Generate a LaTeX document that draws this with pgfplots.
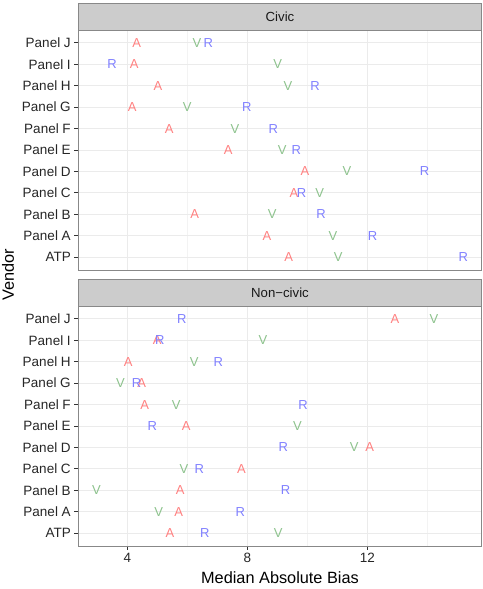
\documentclass[border=0pt]{standalone}
\usepackage{fontspec}
\setmainfont{Liberation Sans}
\usepackage{pgfplots}
\usepackage{pgfplotstable}
\pgfplotsset{compat=1.18}
\definecolor{colA}{HTML}{FF8080}
\definecolor{colV}{HTML}{8CC28C}
\definecolor{colR}{HTML}{8080FF}
\definecolor{stripfill}{HTML}{CCCCCC}
\definecolor{border}{HTML}{888888}
\definecolor{gridmaj}{HTML}{EBEBEB}
\definecolor{gridmin}{HTML}{F3F3F3}

\pgfplotstableread{
y A V R
0 9.38 11.03 15.20
1 8.65 10.85 12.17
2 6.25 8.83 10.46
3 9.55 10.41 9.81
4 9.92 11.32 13.91
5 7.36 9.16 9.63
6 5.40 7.59 8.87
7 4.16 6.00 7.98
8 5.02 9.35 10.26
9 4.23 9.01 3.49
10 4.31 6.32 6.70
}\civic

\pgfplotstableread{
y A V R
0 5.42 9.03 6.58
1 5.71 5.05 7.77
2 5.76 2.97 9.27
3 7.80 5.89 6.40
4 12.08 11.56 9.20
5 5.96 9.67 4.83
6 4.58 5.63 9.86
7 4.48 3.77 4.31
8 4.03 6.23 7.03
9 5.00 8.52 5.08
10 12.92 14.22 5.82
}\noncivic

\pgfplotsset{
  facet/.style={
    width=403.4pt, height=240pt, scale only axis,
    xmin=2.367, xmax=15.81, ymin=-0.6, ymax=10.6,
    xtick={4,8,12}, minor xtick={6,10,14},
    ytick={0,...,10},
    yticklabels={ATP,Panel A,Panel B,Panel C,Panel D,Panel E,Panel F,Panel G,Panel H,Panel I,Panel J},
    grid=both,
    major grid style={color=gridmaj, line width=0.9pt},
    minor grid style={color=gridmin, line width=0.45pt},
    axis line style={color=border, line width=0.9pt},
    tick align=outside, ytick pos=left, xtick pos=bottom,
    major tick length=4pt, minor tick length=0pt,
    tick style={color=black!80, line width=0.8pt},
    ticklabel style={font=\fontsize{13.5}{14}\selectfont, text=black!85},
    clip=false,
    /pgf/number format/assume math mode=true,
  },
  lettA/.style={colA, only marks, mark=text, text mark={A}, text mark as node=true,
    text mark style={font=\fontsize{13}{13}\selectfont, text=colA}},
  lettV/.style={colV, only marks, mark=text, text mark={V}, text mark as node=true,
    text mark style={font=\fontsize{13}{13}\selectfont, text=colV}},
  lettR/.style={colR, only marks, mark=text, text mark={R}, text mark as node=true,
    text mark style={font=\fontsize{13}{13}\selectfont, text=colR}},
}

\begin{document}
\begin{tikzpicture}
\path[use as bounding box] (-78.3pt,-43pt) rectangle (403.7pt,546pt);

\begin{axis}[facet, at={(0pt,276pt)}, anchor=south west,
  xticklabels={}, xtick style={draw=none}]
\addplot[lettA] table[x=A,y=y]{\civic};
\addplot[lettV] table[x=V,y=y]{\civic};
\addplot[lettR] table[x=R,y=y]{\civic};
\end{axis}

\begin{axis}[facet, at={(0pt,0pt)}, anchor=south west]
\addplot[lettA] table[x=A,y=y]{\noncivic};
\addplot[lettV] table[x=V,y=y]{\noncivic};
\addplot[lettR] table[x=R,y=y]{\noncivic};
\end{axis}

% strips
\draw[border, fill=stripfill, line width=0.9pt] (0pt,516pt) rectangle (403.4pt,542.7pt);
\node[text=black!90, font=\fontsize{13.2}{14}\selectfont] at (201.7pt,529.3pt) {Civic};
\draw[border, fill=stripfill, line width=0.9pt] (0pt,240pt) rectangle (403.4pt,266.3pt);
\node[text=black!90, font=\fontsize{13.2}{14}\selectfont] at (201.7pt,253.1pt) {Non\textminus civic};

% axis titles
\node[rotate=90, font=\fontsize{16.3}{17}\selectfont, text=black] at (-70.3pt,271pt) {Vendor};
\node[anchor=base, font=\fontsize{16.3}{17}\selectfont, text=black] at (201.7pt,-37.3pt) {Median Absolute Bias};
\end{tikzpicture}
\end{document}
